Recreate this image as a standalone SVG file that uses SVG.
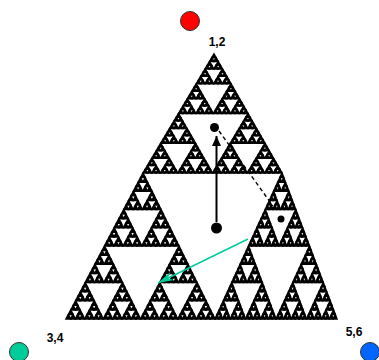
<svg xmlns="http://www.w3.org/2000/svg" xmlns:xlink="http://www.w3.org/1999/xlink" width="379" height="360" viewBox="0 0 379 360">
<style>
.lbl{font-family:"Liberation Sans",Arial,sans-serif;font-size:12px;font-weight:bold;fill:#000}
.t{fill:#000;stroke:#000;stroke-width:1.5;vector-effect:non-scaling-stroke;stroke-linejoin:miter}
</style>
<defs>
<path id="s0" class="t" d="M0,0 L1,0 L0,1Z"/>
<g id="s1"><use href="#s0" transform="scale(.5)"/><use href="#s0" transform="translate(.5,0) scale(.5)"/><use href="#s0" transform="translate(0,.5) scale(.5)"/></g>
<g id="s2"><use href="#s1" transform="scale(.5)"/><use href="#s1" transform="translate(.5,0) scale(.5)"/><use href="#s1" transform="translate(0,.5) scale(.5)"/></g>
<g id="s3"><use href="#s2" transform="scale(.5)"/><use href="#s2" transform="translate(.5,0) scale(.5)"/><use href="#s2" transform="translate(0,.5) scale(.5)"/></g>
<g id="s4"><use href="#s3" transform="scale(.5)"/><use href="#s3" transform="translate(.5,0) scale(.5)"/><use href="#s3" transform="translate(0,.5) scale(.5)"/></g>
<g id="s5"><use href="#s4" transform="scale(.5)"/><use href="#s4" transform="translate(.5,0) scale(.5)"/><use href="#s4" transform="translate(0,.5) scale(.5)"/></g>
<marker id="ga" viewBox="0 0 16 9" refX="16" refY="4.5" markerWidth="16" markerHeight="9" markerUnits="userSpaceOnUse" orient="auto"><path d="M0,0 L16,4.5 L0,9 L5,4.5Z" fill="#00cc99"/></marker>
<marker id="ba" viewBox="0 0 10 9" refX="10" refY="4.5" markerWidth="10" markerHeight="9" markerUnits="userSpaceOnUse" orient="auto"><path d="M0,0 L10,4.5 L0,9Z" fill="#000"/></marker>
</defs>
<rect width="379" height="360" fill="#fff"/>
<g id="sierpinski">
<use href="#s5" transform="matrix(-71,119,68,119,214,54)"/>
<use href="#s5" transform="matrix(-77,146,72,146,143,173)"/>
<use href="#s5" transform="matrix(-67,146,55,146,282,173)"/>
</g>
<g id="vertex-top"><circle cx="190" cy="21" r="9.5" fill="#ff0000" stroke="#333" stroke-width="1"/><text class="lbl" x="217" y="46" text-anchor="middle">1,2</text></g>
<g id="vertex-left"><circle cx="19" cy="352" r="9.5" fill="#00cc99" stroke="#333" stroke-width="1"/><text class="lbl" x="55" y="342" text-anchor="middle">3,4</text></g>
<g id="vertex-right"><circle cx="370" cy="352" r="9.5" fill="#0066ff" stroke="#333" stroke-width="1"/><text class="lbl" x="354" y="336" text-anchor="middle">5,6</text></g>
<g id="point-top"><circle cx="214.5" cy="127.5" r="4.5" fill="#000"/></g>
<g id="point-bottom"><circle cx="216.5" cy="228" r="5.5" fill="#000"/></g>
<g id="point-right"><circle cx="281" cy="219" r="3.5" fill="#000"/></g>
<g id="connectors">
<line x1="216.5" y1="222" x2="216.5" y2="136" stroke="#000" stroke-width="2" marker-end="url(#ba)"/>
<line x1="219" y1="131" x2="273" y2="206" stroke="#000" stroke-width="1.4" stroke-dasharray="4,3"/>
<line x1="248" y1="239" x2="158" y2="283" stroke="#00cc99" stroke-width="1.5" marker-end="url(#ga)"/>
</g>
</svg>
